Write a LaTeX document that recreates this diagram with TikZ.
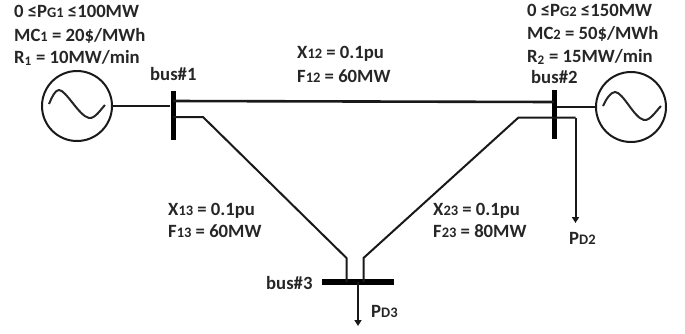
\documentclass[tikz,border=0pt]{standalone}
\usepackage{fontspec}
\setmainfont{Carlito}
\usetikzlibrary{arrows.meta,calc}
\tikzset{
  gen/.style={draw=black!90,line width=2pt,circle,minimum size=70pt,inner sep=0pt},
  busbar/.style={fill=black,draw=none,inner sep=0pt},
  wire/.style={draw=black!90,line width=2pt},
  wave/.style={draw=black!85,line width=2pt,line join=round},
  load/.style={wire,-{Triangle[length=6pt,width=7pt]}},
  lbl/.style={font=\fontsize{18.7}{20}\selectfont\bfseries,text=black!85,anchor=base west,inner sep=0pt}
}
\newcommand{\sm}[1]{{\fontsize{14.5}{16}\selectfont #1}}
\begin{document}
\begin{tikzpicture}[x=1pt,y=-1pt]
\useasboundingbox (0,0) rectangle (685,333);
\node[gen] (g1) at (77,106) {};
\node[gen] (g2) at (631,107) {};
\node[busbar,minimum width=5pt,minimum height=49pt] (b1) at (173,115) {};
\node[busbar,minimum width=5pt,minimum height=49pt] (b2) at (554,114.5) {};
\node[busbar,minimum width=72pt,minimum height=5.5pt] (b3) at (358,282) {};
\coordinate (b1top) at (173,101);
\coordinate (b2top) at (554,102);
\coordinate (b1low) at (173,117);
\coordinate (a13) at (203,117);
\coordinate (c13) at (346.5,258);
\coordinate (d13) at (346.5,282);
\coordinate (a23) at (518.5,117.5);
\coordinate (c23) at (363.5,258);
\coordinate (d23) at (363.5,282);
\coordinate (t2) at (575.5,117.5);
\coordinate (e2) at (575.5,223);
\coordinate (t3) at (358,282);
\coordinate (e3) at (358,326);
% connectors
\draw[wire] (g1.east) -- (g1.east -| b1.west);
\draw[wire] (g2.west) -- (g2.west -| b2.east);
\draw[wire,line width=2.6pt] (b1top) -- (b2top);
\draw[wire,line join=round] (b1low) -- (a13) -- (c13) -- (d13);
\draw[wire,line join=round] (t2) -- (a23) -- (c23) -- (d23);
\draw[load] (t2) -- (e2);
\draw[load] (t3) -- (e3);
% sine waves
\draw[wave] ($(g1)+(-28,-2)$) .. controls ($(g1)+(-25,-9)$) and ($(g1)+(-22,-16)$) .. ($(g1)+(-18,-16)$)
  .. controls ($(g1)+(-11,-16)$) and ($(g1)+(2,10)$) .. ($(g1)+(12,12)$)
  .. controls ($(g1)+(18,13)$) and ($(g1)+(24,3)$) .. ($(g1)+(28,-1)$);
\draw[wave] ($(g2)+(-28,-1)$) .. controls ($(g2)+(-25,-8)$) and ($(g2)+(-20,-15)$) .. ($(g2)+(-16,-15)$)
  .. controls ($(g2)+(-8,-15)$) and ($(g2)+(3,11)$) .. ($(g2)+(13,13)$)
  .. controls ($(g2)+(19,14)$) and ($(g2)+(25,4)$) .. ($(g2)+(30,-1)$);
% labels
\node[lbl] (t1) at (14,17) {0 ≤P\sm{G1} ≤100MW};
\node[lbl] (t4) at (14,41) {MC\sm{1} = 20\$/MWh};
\node[lbl] (t5) at (14,63) {R\textsubscript{1} = 10MW/min};
\node[lbl] (t6) at (150,80) {bus\#1};
\node[lbl] (t7) at (527,16) {0 ≤P\sm{G2} ≤150MW};
\node[lbl] (t8) at (527,39) {MC\sm{2} = 50\$/MWh};
\node[lbl] (t9) at (527,62) {R\textsubscript{2} = 15MW/min};
\node[lbl] (t10) at (531,83) {bus\#2};
\node[lbl] (t11) at (297,58) {X\sm{12} = 0.1pu};
\node[lbl] (t12) at (297,82) {F\sm{12} = 60MW};
\node[lbl] (t13) at (168,215) {X\sm{13} = 0.1pu};
\node[lbl] (t14) at (168,237) {F\sm{13} = 60MW};
\node[lbl] (t15) at (433,215) {X\sm{23} = 0.1pu};
\node[lbl] (t16) at (433,237) {F\sm{23} = 80MW};
\node[lbl] (t17) at (266,289) {bus\#3};
\node[lbl] (t18) at (371,317) {P\sm{D3}};
\node[lbl] (t19) at (569,244) {P\sm{D2}};
\end{tikzpicture}
\end{document}
